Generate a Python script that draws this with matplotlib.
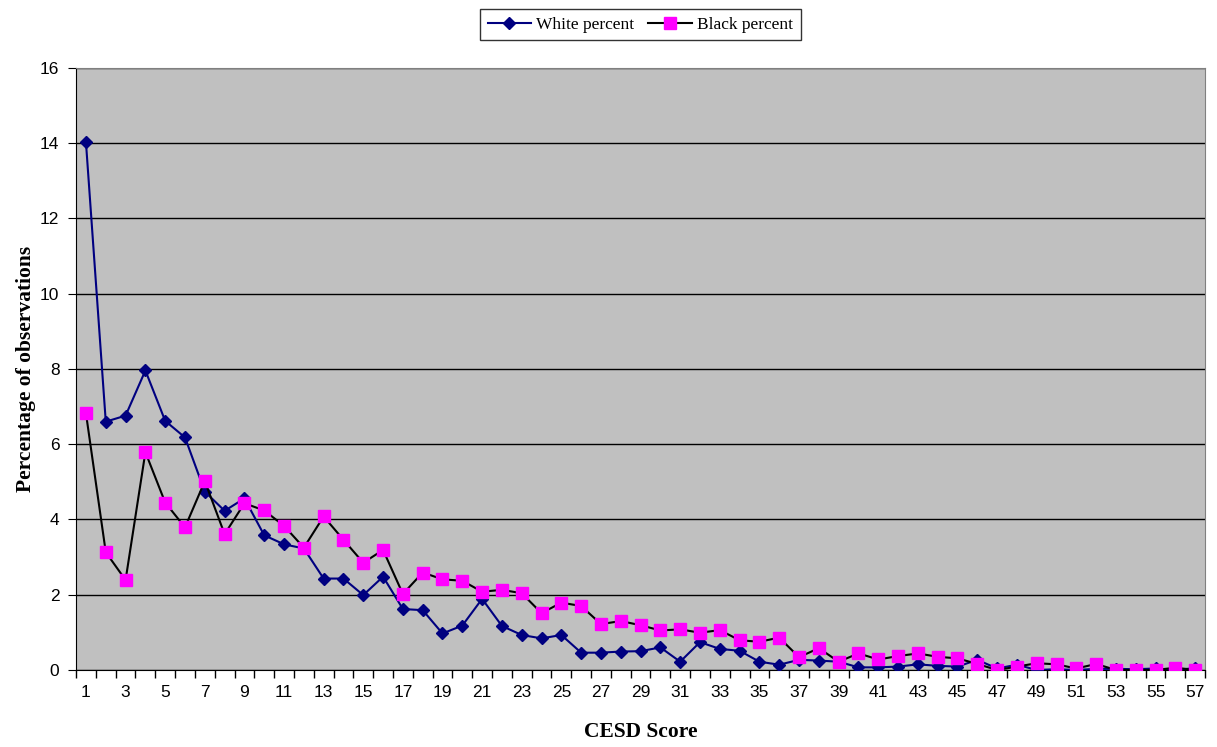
import numpy as np
import matplotlib
matplotlib.use("Agg")
import matplotlib.pyplot as plt

plt.rcParams['font.family'] = ['Liberation Serif', 'DejaVu Serif']

# CESD score categories
scores = list(range(1, 58))

white_pct = [14.02, 6.60, 6.76, 7.96, 6.62, 6.18, 4.74, 4.23, 4.56, 3.58,
             3.34, 3.23, 2.43, 2.43, 1.99, 2.48, 1.62, 1.59, 0.97, 1.18,
             1.89, 1.17, 0.93, 0.84, 0.93, 0.46, 0.46, 0.49, 0.50, 0.60,
             0.22, 0.74, 0.56, 0.51, 0.22, 0.14, 0.27, 0.25, 0.22, 0.07,
             0.07, 0.09, 0.15, 0.11, 0.09, 0.27, 0.04, 0.14, 0.00, 0.02,
             0.00, 0.03, 0.03, 0.02, 0.04, 0.00, 0.05]

black_pct = [6.82, 3.13, 2.39, 5.79, 4.45, 3.79, 5.02, 3.61, 4.43, 4.24,
             3.83, 3.25, 4.08, 3.46, 2.85, 3.19, 2.02, 2.59, 2.41, 2.37,
             2.08, 2.13, 2.04, 1.51, 1.79, 1.70, 1.22, 1.30, 1.19, 1.05,
             1.08, 0.99, 1.06, 0.79, 0.75, 0.86, 0.34, 0.58, 0.22, 0.44,
             0.28, 0.37, 0.44, 0.35, 0.31, 0.16, 0.00, 0.09, 0.18, 0.15,
             0.04, 0.16, 0.00, 0.00, 0.00, 0.06, 0.00]

fig = plt.figure(figsize=(12.17, 7.47), dpi=100)
ax = fig.add_axes([0.0625, 0.1031, 0.9277, 0.8059])
ax.set_facecolor('#C0C0C0')

ax.plot(scores, white_pct, color='#000080', lw=1.5, marker='D', ms=6,
        mfc='#000080', mec='#000080', label='White percent', zorder=3)
ax.plot(scores, black_pct, color='black', lw=1.5, marker='s', ms=8,
        mfc='#FF00FF', mec='#FF00FF', label='Black percent', zorder=3)

ax.set_xlim(0.5, 57.5)
ax.set_ylim(0, 16)
ax.set_yticks(range(0, 17, 2))
ax.yaxis.grid(True, color='black', lw=1)
ax.set_axisbelow(True)

ax.set_xticks(scores[::2])
ax.set_xticklabels([str(s) for s in scores[::2]])
ax.set_xticks(np.arange(0.5, 58, 1), minor=True)
ax.tick_params(axis='x', which='major', length=0, pad=11, labelsize=12.5)
ax.tick_params(axis='x', which='minor', length=6, direction='out', width=1)
ax.tick_params(axis='y', length=6, direction='out', labelsize=12.5, pad=6)
for lab in ax.get_xticklabels() + ax.get_yticklabels():
    lab.set_family(['Liberation Sans', 'DejaVu Sans'])

for s in ['top', 'right']:
    ax.spines[s].set_color('#808080')
ax.spines['left'].set_color('black')
ax.spines['bottom'].set_color('black')

ax.set_xlabel('CESD Score', fontsize=15.5, fontweight='bold', labelpad=16)
ax.set_ylabel('Percentage of observations', fontsize=15.5, fontweight='bold', labelpad=3)

leg = fig.legend(loc='upper center', bbox_to_anchor=(0.526, 1.0), ncol=2,
                 fontsize=12.5, frameon=True, fancybox=False, edgecolor='black',
                 handlelength=2.5, columnspacing=0.8, handletextpad=0.3,
                 borderpad=0.45)
leg.get_frame().set_linewidth(1)

fig.savefig('out.png', dpi=100)
